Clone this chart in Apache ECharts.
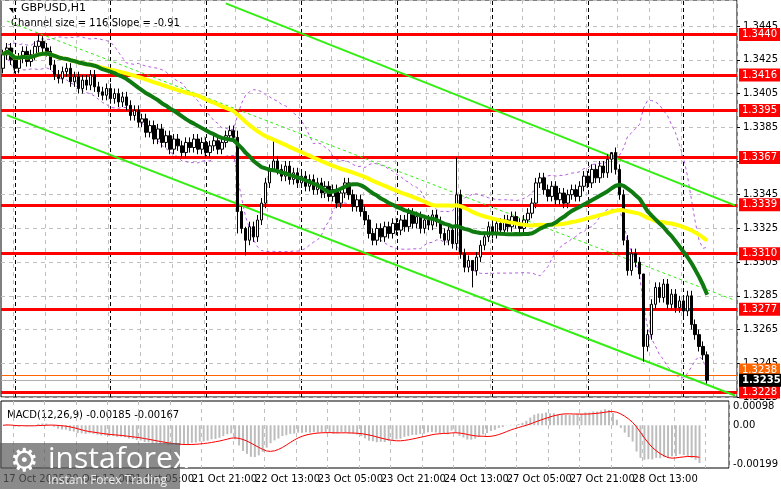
<!DOCTYPE html>
<html>
<head>
<meta charset="utf-8">
<script src="https://cdn.jsdelivr.net/npm/echarts@6/dist/echarts.min.js"></script>
<style>
  html, body { margin: 0; padding: 0; background: #fff; }
  #chart { width: 781px; height: 489px; }
</style>
</head>
<body>
<div id="chart"></div>
<script>
// closes per H1 bar
var closes = [
  1.3428,1.3432,1.3425,1.3420,1.3426,1.3430,1.3424,1.3428,1.3433,1.3436,1.3432,1.3430,
  1.3422,1.3416,1.3414,1.3418,
  1.3420,1.3412,1.3415,1.3408,1.3413,1.3410,1.3416,1.3409,1.3406,
  1.3404,1.3408,1.3402,1.3405,1.3400,1.3403,1.3398,
  1.3392,1.3395,1.3388,1.3390,
  1.3382,1.3386,1.3378,1.3384,1.3376,1.3380,1.3372,1.3378,1.3374,1.3370,1.3376,1.3373,
  1.3378,1.3372,1.3376,1.3370,1.3374,1.3377,1.3372,1.3376,1.3380,1.3383,1.3379,
  1.3335,1.3325,1.3318,1.3326,1.3320,1.3330,
  1.3340,1.3352,1.3360,1.3365,
  1.3360,1.3356,1.3362,1.3354,1.3358,1.3352,1.3356,1.3350,1.3354,1.3348,1.3352,1.3346,1.3350,
  1.3344,1.3348,1.3340,1.3346,1.3352,1.3345,1.3338,1.3342,1.3335,1.3330,
  1.3322,1.3318,1.3325,1.3320,1.3326,1.3322,1.3328,1.3324,
  1.3330,1.3326,1.3334,1.3328,1.3332,1.3325,1.3330,1.3327,1.3333,1.3329,
  1.3322,1.3318,1.3324,1.3316,1.3345,
  1.3310,1.3302,1.3306,1.3300,
  1.3308,1.3315,1.3320,1.3326,
  1.3322,1.3328,1.3324,1.3330,1.3326,1.3332,1.3328,1.3325,1.3330,1.3334,1.3340,1.3352,
  1.3355,1.3348,1.3344,1.3350,1.3342,1.3346,1.3340,1.3345,1.3348,
  1.3344,1.3350,1.3356,1.3352,1.3360,1.3355,1.3362,1.3358,1.3366,1.3370,
  1.3360,1.3345,1.3318,1.3300,1.3310,1.3305,
  1.3298,1.3255,1.3262,1.3280,1.3290,
  1.3284,1.3292,1.3280,1.3286,1.3278,1.3282,1.3276,1.3285,
  1.3268,1.3262,1.3255,1.3250,1.3235
];
var firstOpen = 1.3420;
// notable wick extremes [index, high, low]
var spikes = [
  [9, 1.3440, 1.3428], [59, 1.3383, 1.3322], [61, 1.3326, 1.3309], [68, 1.3378, 1.3360],
  [114, 1.3367, 1.3312], [118, 1.3306, 1.3290], [153, 1.3369, 1.3358],
  [161, 1.3298, 1.3246], [177, 1.3252, 1.3233]
];
var levels = [1.3440, 1.3416, 1.3395, 1.3367, 1.3339, 1.3310, 1.3277, 1.3228];
var timeLabels = ['17 Oct 2025','20 Oct 13:00','21 Oct 05:00','21 Oct 21:00','22 Oct 13:00',
  '23 Oct 05:00','23 Oct 21:00','24 Oct 13:00','27 Oct 05:00','27 Oct 21:00','28 Oct 13:00','29 Oct 05:00'];
var dayLines = [3, 27, 51, 75, 99, 123, 147, 171];
var upperChannel = [[56, 1.34585], [184.25, 1.33387]];
var lowerChannel = [[0.5, 1.33922], [184.25, 1.32259]];
var midChannel = [[0.5, 1.34480], [184.25, 1.32823]];
var bidPrice = 1.3235, askPrice = 1.3238;

var nCat = 185;
var cats = [];
for (var i = 0; i < nCat; i++) cats.push(i);

var spikeMap = {};
spikes.forEach(function (s) { spikeMap[s[0]] = s; });
var candles = closes.map(function (c, i) {
  var o = i === 0 ? firstOpen : closes[i - 1];
  var hi = Math.max(o, c) + 0.0003, lo = Math.min(o, c) - 0.0003;
  if (spikeMap[i]) { hi = spikeMap[i][1]; lo = spikeMap[i][2]; }
  return [o, c, lo, hi];
});

function sma(arr, n) {
  return arr.map(function (v, i) {
    var s = 0, k = 0;
    for (var j = Math.max(0, i - n + 1); j <= i; j++) { s += arr[j]; k++; }
    return +(s / k).toFixed(6);
  });
}
function ema(arr, n) {
  var a = 2 / (n + 1), out = [], e = arr[0];
  arr.forEach(function (v) { e = e + a * (v - e); out.push(e); });
  return out;
}
var maFast = sma(closes, 24);
var maSlow = sma(closes, 50);
var bbUp = [], bbDn = [];
var mid = sma(closes, 20);
closes.forEach(function (v, i) {
  var s = 0, k = 0;
  for (var j = Math.max(0, i - 19); j <= i; j++) { s += Math.pow(closes[j] - mid[i], 2); k++; }
  var sd = Math.sqrt(s / k);
  bbUp.push(+(mid[i] + 2 * sd).toFixed(5));
  bbDn.push(+(mid[i] - 2 * sd).toFixed(5));
});
var e12 = ema(closes, 12), e26 = ema(closes, 26);
var macd = e12.map(function (v, i) { return +(v - e26[i]).toFixed(6); });
var signal = sma(macd, 9);

var font = 'DejaVu Sans';
var chart = echarts.init(document.getElementById('chart'));

function boxLabel(text, bg, extra) {
  var l = { show: true, position: 'end', formatter: text, distance: 2, color: '#fff',
    backgroundColor: bg, padding: [2, 3, 1, 3], fontFamily: font, fontSize: 10 };
  for (var k in extra) l[k] = extra[k];
  return l;
}
var levelLines = levels.map(function (p) {
  return { yAxis: p, lineStyle: { color: '#ff0000', width: 3, type: 'solid' }, label: boxLabel(p.toFixed(4), '#ff0000', {}) };
});
levelLines.unshift({ yAxis: askPrice, lineStyle: { color: '#ff6600', width: 1, type: 'solid' },
  label: boxLabel(askPrice.toFixed(4), '#ff6600', { offset: [0, -5] }) });
levelLines.push({ yAxis: bidPrice, lineStyle: { color: '#b0b0b0', width: 1, type: 'solid' },
  label: boxLabel(bidPrice.toFixed(4), '#000', { fontWeight: 'bold' }) });

var dayMarks = dayLines.map(function (d) {
  return { xAxis: d, lineStyle: { color: '#000', width: 1, type: [4, 3] }, label: { show: false } };
});

var channelLines = [
  [{ coord: upperChannel[0] }, { coord: upperChannel[1] }],
  [{ coord: lowerChannel[0] }, { coord: lowerChannel[1] }],
  [{ coord: midChannel[0], lineStyle: { type: [3, 3], width: 1 } }, { coord: midChannel[1] }]
];

var option = {
  animation: false,
  backgroundColor: '#fff',
  textStyle: { fontFamily: font },
  grid: [
    { left: 1, right: 41, top: 0, height: 397, show: true, borderColor: '#000', borderWidth: 1 },
    { left: 1, right: 41, top: 401, height: 67, show: true, borderColor: '#000', borderWidth: 1 }
  ],
  xAxis: [
    { type: 'category', data: cats, gridIndex: 0, boundaryGap: true,
      axisLine: { show: false }, axisTick: { show: false }, axisLabel: { show: false },
      splitLine: { show: true, interval: function (i) { return (i - 3) % 8 === 0; },
        lineStyle: { color: '#c0c0c0', type: [4, 4] } } },
    { type: 'category', data: cats, gridIndex: 1, boundaryGap: true,
      axisLine: { show: false }, axisTick: { show: false },
      axisLabel: { show: true, interval: function (i) { return i % 16 === 0; }, align: 'left',
        formatter: function (v) { return timeLabels[v / 16] || ''; },
        color: '#000', fontSize: 10, fontFamily: font, margin: 6 },
      splitLine: { show: true, interval: function (i) { return (i - 3) % 8 === 0; },
        lineStyle: { color: '#c0c0c0', type: [4, 4] } } }
  ],
  yAxis: [
    { type: 'value', gridIndex: 0, position: 'right', min: 1.3225, max: 1.34605, interval: 0.002,
      axisLine: { show: false }, axisTick: { show: true, length: 3, lineStyle: { color: '#000' } },
      axisLabel: { color: '#000', fontSize: 10, fontFamily: font, margin: 6, showMaxLabel: false,
        formatter: function (v) { return v.toFixed(4); } },
      splitLine: { show: true, lineStyle: { color: '#c0c0c0', type: [4, 4] } } },
    { type: 'value', gridIndex: 1, position: 'right', min: -0.0022, max: 0.00125,
      axisLine: { show: false },
      axisLabel: { color: '#000', fontSize: 10, fontFamily: font, margin: 4,
        customValues: [0.00098, 0, -0.00199],
        formatter: function (v) { return v === 0 ? '0.00' : v.toFixed(5); } },
      axisTick: { show: false, customValues: [0.00098, 0, -0.00199] },
      splitLine: { show: false } }
  ],
  graphic: [
    { type: 'polygon', shape: { points: [[9, 8], [17, 8], [13, 13]] }, style: { fill: '#000' } },
    { type: 'text', left: 21, top: 3, style: { text: 'GBPUSD,H1', fill: '#000', font: '11px "DejaVu Sans"' } },
    { type: 'text', left: 11, top: 18, style: { text: 'Channel size = 116 Slope = -0.91', fill: '#000', font: '10px "DejaVu Sans"' } },
    { type: 'text', left: 7, top: 410, style: { text: 'MACD(12,26,9) -0.00185 -0.00167', fill: '#000', font: '10px "DejaVu Sans"' } },
    { type: 'rect', shape: { x: 0, y: 443, width: 180, height: 46 }, style: { fill: 'rgba(90,90,90,0.7)' }, z: 100 },
    { type: 'text', left: 10, top: 447, z: 101, style: { text: '\u2699', fill: '#fff', font: '32px "DejaVu Sans"' } },
    { type: 'text', left: 48, top: 444, z: 101, style: { text: 'instaforex', fill: '#fff', font: '30px "Open Sans"' } },
    { type: 'text', left: 48, top: 475, z: 101, style: { text: 'Instant Forex Trading', fill: '#eee', font: '12px "Open Sans"' } }
  ],
  series: [
    { type: 'candlestick', xAxisIndex: 0, yAxisIndex: 0, data: candles, barWidth: 3,
      itemStyle: { color: '#fff', color0: '#000', borderColor: '#000', borderColor0: '#000', borderWidth: 1 },
      z: 5 },
    { type: 'line', data: bbUp, symbol: 'none', lineStyle: { color: '#b65be0', width: 1, type: [3, 3] }, z: 4,
      markLine: { symbol: 'none', silent: true, data: dayMarks } },
    { type: 'line', data: bbDn, symbol: 'none', lineStyle: { color: '#b65be0', width: 1, type: [3, 3] }, z: 4,
      markLine: { symbol: 'none', silent: true, precision: 5, data: levelLines } },
    { type: 'line', data: maSlow, symbol: 'none', lineStyle: { color: '#ffff00', width: 4 }, z: 6 },
    { type: 'line', data: maFast, symbol: 'none', lineStyle: { color: '#0f7a0f', width: 4 }, z: 7,
      markLine: { symbol: 'none', silent: true, precision: 5, label: { show: false },
        lineStyle: { color: '#33ee11', width: 2, type: 'solid' }, data: channelLines } },
    { type: 'bar', xAxisIndex: 1, yAxisIndex: 1, data: macd, barWidth: 2, itemStyle: { color: '#bdbdbd' } },
    { type: 'line', xAxisIndex: 1, yAxisIndex: 1, data: signal, symbol: 'none', lineStyle: { color: '#ff0000', width: 1 } }
  ]
};
chart.setOption(option);
</script>
</body>
</html>
